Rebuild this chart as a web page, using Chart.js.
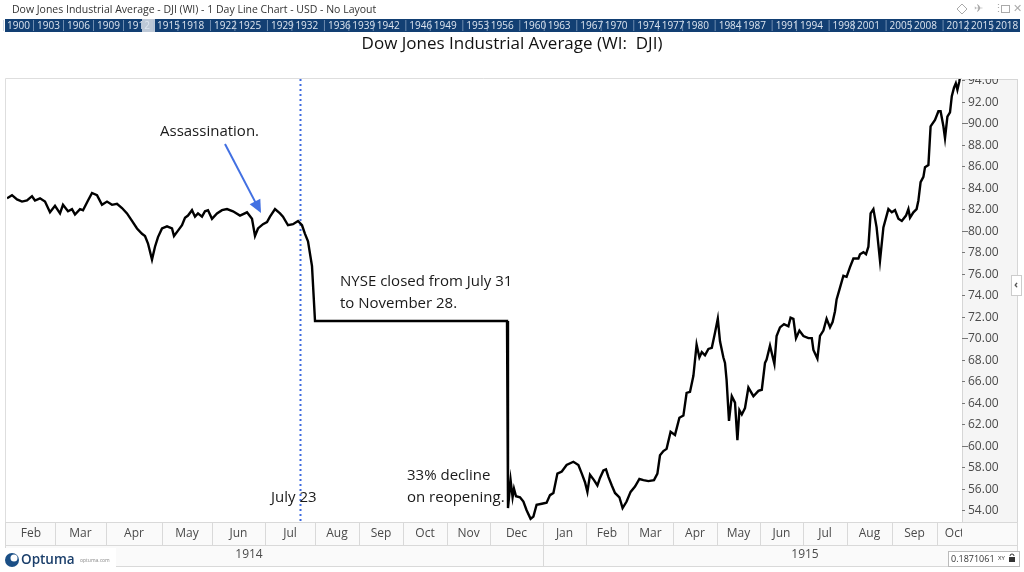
<!DOCTYPE html>
<html>
<head>
<meta charset="utf-8">
<script src="https://cdn.jsdelivr.net/npm/chart.js@4/dist/chart.umd.min.js"></script>
<style>
  html, body { margin: 0; padding: 0; background: #fff; }
  #wrap { width: 1024px; height: 572px; }
</style>
</head>
<body>
<div id="wrap"><canvas id="chart" width="1024" height="572"></canvas></div>
<script>
// --- datos (eje x = dias de bolsa desde el 1 feb 1914) ---
const days = [
  0, 2.5, 5, 7.5, 10, 12.5, 14, 16.5, 19, 21.5, 24, 26.5, 28, 30.5, 32.5, 34, 36.5, 38, 40.5, 42.5,
  45, 47.5, 50, 52.5, 55, 57.5, 60, 62.5, 65, 67.5, 69, 70.5, 72.5, 74, 75.5, 77.5, 80, 82.5, 83.5, 85.5,
  87.5, 89, 90.5, 92.5, 94, 95.5, 97.5, 99, 100.5, 102.5, 105, 107.5, 110, 113, 116.5, 120, 122.5, 124, 125.5, 128,
  130, 131.5, 134, 136.5, 138, 140.5, 143, 145.5, 147.5, 149, 150.5, 152.5, 153, 154, 250,
  250.5, 251.8, 252.8, 253.5, 254.5, 256.5, 258.2, 259.8, 261.8, 263.2, 264.8, 267.4, 269.8, 271.5, 273.2, 275.2,
  277.4, 279.8, 283.2, 285.7, 287.4, 289, 290.2, 291.5, 293.5, 295.2, 296.5, 298.2, 299.5, 300.7, 302.4, 304,
  306.2, 307.8, 309.8, 311.8, 314, 316.2, 318.2, 320.7, 323.5, 325.2, 326.5, 328.2, 329.8, 331.8, 334, 336.2,
  338.2, 339.8, 341.5, 343.2, 344.8, 346.2, 347.4, 349, 350.7, 352.4, 354, 355.4, 356.5, 358.2, 359, 359.8,
  361, 362.4, 364, 365.2, 366.2, 367.4, 369, 370.7, 373.2, 375.7, 377.4, 379, 379.8, 381.5, 383.7, 384.8,
  386.5, 388.5, 390.7, 391.8, 393.2, 394.5, 396.2, 398.2, 400.7, 402.4, 403.2, 405.2, 406.5, 408.2, 409.8, 411.5,
  412.8, 414, 414.8, 416.5, 418.2, 419.8, 421.5, 423.2, 425.7, 426.5, 428.2, 429.5, 430.7, 431.8, 433.2, 434.8,
  436.5, 438.2, 440.7, 442.4, 444, 445.7, 447.4, 449.5, 450.7, 451.5, 453.2, 454.8, 455.7, 456.8, 458.2, 459,
  460.7, 461.8, 464, 465.7, 466.8, 468.2, 469, 470.2, 471.5, 472.4, 473.5, 474.4, 475.2, 476.2, 476.5
];
const closes = [
  83.0, 83.3, 82.9, 82.7, 82.8, 83.2, 82.8, 83.0, 82.7, 81.7, 82.3, 81.6, 82.4, 81.8, 82.0, 81.5, 82.0, 81.9, 82.8, 83.5,
  83.3, 82.4, 82.7, 82.4, 82.5, 82.1, 81.6, 80.9, 80.2, 79.7, 79.5, 78.8, 77.3, 78.5, 79.4, 80.2, 80.4, 80.2, 79.5, 80.0,
  80.5, 81.2, 81.4, 81.9, 81.3, 81.6, 81.3, 81.8, 81.9, 81.1, 81.6, 81.9, 82.0, 81.8, 81.4, 81.7, 81.1, 79.5, 80.2, 80.6,
  80.8, 81.3, 82.0, 81.6, 81.3, 80.5, 80.6, 80.9, 80.5, 79.7, 79.0, 76.7, 75.0, 71.6, 71.6,
  54.2, 56.8, 55.2, 56.0, 55.3, 55.2, 54.8, 54.0, 53.2, 53.4, 54.5, 54.6, 54.7, 55.4, 55.6, 57.4,
  57.6, 58.2, 58.5, 58.2, 57.4, 56.6, 55.7, 57.3, 56.8, 56.3, 57.0, 57.7, 57.8, 57.1, 56.3, 55.6,
  55.2, 54.2, 54.8, 55.7, 56.2, 56.9, 56.8, 56.7, 56.8, 57.4, 59.1, 59.5, 59.7, 61.3, 61.0, 62.6,
  62.8, 64.9, 65.0, 66.5, 69.4, 68.2, 68.7, 68.4, 69.0, 69.1, 70.5, 71.8, 69.7, 68.2, 67.7, 66.1,
  62.3, 64.6, 64.0, 60.5, 63.3, 62.9, 63.5, 65.4, 64.6, 65.1, 65.2, 67.7, 68.0, 69.3, 67.6, 70.2,
  71.0, 71.3, 71.1, 71.9, 71.8, 70.0, 70.7, 70.2, 70.0, 70.0, 68.9, 68.1, 70.2, 70.7, 71.8, 71.0,
  71.5, 72.5, 73.6, 74.7, 75.8, 75.7, 76.6, 77.4, 77.4, 77.8, 78.0, 77.8, 78.5, 81.6, 82.0, 80.3,
  77.2, 80.3, 82.0, 81.7, 81.9, 81.1, 80.9, 81.4, 82.0, 81.2, 81.7, 82.0, 82.8, 84.5, 85.0, 85.9,
  86.1, 89.7, 90.3, 91.1, 91.1, 89.7, 88.6, 90.6, 91.0, 92.5, 93.3, 93.7, 93.1, 93.9, 94.3
];

// meses (inicio de cada mes en dias de bolsa)
const monthNames = ['Feb', 'Mar', 'Apr', 'May', 'Jun', 'Jul', 'Aug', 'Sep', 'Oct', 'Nov', 'Dec',
                    'Jan', 'Feb', 'Mar', 'Apr', 'May', 'Jun', 'Jul', 'Aug', 'Sep', 'Oct'];
const monthStarts = [0, 24, 49.5, 77.5, 102.5, 129, 154, 176, 198, 220, 241.5,
                     268, 289.5, 310.5, 333, 355, 376.5, 398, 420, 442.5, 465];
const yearNames = ['1914', '1915'];
const yearStarts = [-26, 268, 530];
const yTicks = [54, 56, 58, 60, 62, 64, 66, 68, 70, 72, 74, 76, 78, 80, 82, 84, 86, 88, 90, 92, 94];
const july23 = 146.5;
const navYears = [1900, 1903, 1906, 1909, 1912, 1915, 1918, 1922, 1925, 1929, 1932, 1936, 1939, 1942, 1946, 1949,
                  1953, 1956, 1960, 1963, 1967, 1970, 1974, 1977, 1980, 1984, 1987, 1991, 1994, 1998, 2001,
                  2005, 2008, 2012, 2015, 2018];

const FONT = '"Open Sans", "Noto Sans", sans-serif';

// posicion aproximada de los anos en la barra de navegacion
function navX(y) {
    return y <= 1915 ? 7 + (y - 1900) * 10 : 157 + (y - 1915) * 8.14;
}

const decorPlugin = {
    id: 'decor',
    beforeDraw(chart) {
        const ctx = chart.ctx;
        const a = chart.chartArea;
        ctx.save();
        ctx.fillStyle = '#fff';
        ctx.fillRect(0, 0, chart.width, chart.height);

        // cabecera
        ctx.fillStyle = '#333';
        ctx.font = '10.5px ' + FONT;
        ctx.textBaseline = 'middle';
        ctx.fillText('Dow Jones Industrial Average - DJI (WI) - 1 Day Line Chart - USD - No Layout', 12, 10);

        // iconos arriba a la derecha
        ctx.strokeStyle = '#aaa';
        ctx.fillStyle = '#aaa';
        ctx.lineWidth = 1;
        ctx.beginPath();
        ctx.moveTo(962, 4); ctx.lineTo(967, 9); ctx.lineTo(962, 14); ctx.lineTo(957, 9); ctx.closePath();
        ctx.stroke();
        ctx.font = '11px ' + FONT;
        ctx.fillText('\u2708', 974, 9);
        ctx.fillText('\u22EE', 993, 9);
        ctx.strokeRect(1001.5, 5.5, 8, 7);
        ctx.fillText('\u2715', 1013, 9);

        // barra de navegacion
        ctx.fillStyle = '#123f73';
        ctx.fillRect(5, 19, 1015, 13);
        ctx.fillStyle = 'rgba(220,225,232,0.85)';
        ctx.fillRect(142, 19, 13, 13);
        ctx.font = '10px ' + FONT;
        navYears.forEach(y => {
            const x = navX(y);
            ctx.strokeStyle = 'rgba(170,190,215,0.6)';
            ctx.beginPath();
            ctx.moveTo(x - 3.5, 20); ctx.lineTo(x - 3.5, 31);
            ctx.stroke();
            ctx.fillStyle = '#dde5ef';
            ctx.fillText(String(y), x, 26);
        });

        // titulo
        ctx.fillStyle = '#111';
        ctx.font = '17px ' + FONT;
        ctx.textAlign = 'center';
        ctx.fillText('Dow Jones Industrial Average (WI:  DJI)', 512, 44);

        // panel del eje y
        ctx.fillStyle = '#f5f5f5';
        ctx.fillRect(a.right, a.top, 1017 - a.right, a.bottom - a.top);
        ctx.strokeStyle = '#d6d6d6';
        ctx.strokeRect(a.right + 0.5, a.top + 0.5, 1017 - a.right, a.bottom - a.top);

        // marco del grafico
        ctx.strokeStyle = '#dedede';
        ctx.beginPath();
        ctx.moveTo(5.5, a.bottom); ctx.lineTo(5.5, a.top - 0.5); ctx.lineTo(a.right, a.top - 0.5);
        ctx.stroke();
        ctx.restore();
    },
    beforeDatasetsDraw(chart) {
        const ctx = chart.ctx;
        const a = chart.chartArea;
        const x = Math.round(chart.scales.x.getPixelForValue(july23)) + 0.5;
        ctx.save();
        ctx.strokeStyle = '#3d6ae0';
        ctx.lineWidth = 2;
        ctx.setLineDash([2, 3]);
        ctx.beginPath();
        ctx.moveTo(x, a.top);
        ctx.lineTo(x, a.bottom);
        ctx.stroke();
        ctx.restore();
    },
    afterDraw(chart) {
        const ctx = chart.ctx;
        const a = chart.chartArea;
        const xs = chart.scales.x;
        const ys = chart.scales.y;
        ctx.save();

        // ticks y etiquetas del eje y
        ctx.save();
        ctx.beginPath();
        ctx.rect(a.right, a.top, 60, a.bottom - a.top);
        ctx.clip();
        ctx.strokeStyle = '#777';
        ctx.lineWidth = 1;
        ctx.fillStyle = '#4a4a4a';
        ctx.font = '12px ' + FONT;
        ctx.textBaseline = 'middle';
        ctx.textAlign = 'left';
        yTicks.forEach(v => {
            const y = Math.round(ys.getPixelForValue(v)) + 0.5;
            const len = v % 10 === 0 ? 6 : 3;
            ctx.beginPath();
            ctx.moveTo(a.right, y); ctx.lineTo(a.right + len, y);
            ctx.stroke();
            ctx.fillText(v.toFixed(2), a.right + 6, y);
        });
        ctx.restore();

        // fila de meses
        const rowTop = a.bottom;
        const rowBot = rowTop + 23;
        const yrBot = rowBot + 21;
        ctx.fillStyle = '#fafafa';
        ctx.fillRect(5, rowTop, 1012, yrBot - rowTop);
        ctx.strokeStyle = '#d9d9d9';
        ctx.lineWidth = 1;
        ctx.beginPath();
        ctx.moveTo(5, rowTop + 0.5); ctx.lineTo(1017, rowTop + 0.5);
        ctx.moveTo(5, rowBot + 0.5); ctx.lineTo(1017, rowBot + 0.5);
        ctx.moveTo(5, yrBot + 0.5); ctx.lineTo(1017, yrBot + 0.5);
        ctx.moveTo(5.5, rowTop); ctx.lineTo(5.5, yrBot);
        ctx.moveTo(1017.5, rowTop); ctx.lineTo(1017.5, yrBot);
        ctx.stroke();

        ctx.save();
        ctx.beginPath();
        ctx.rect(5, rowTop, a.right - 5, rowBot - rowTop);
        ctx.clip();
        ctx.font = '12px ' + FONT;
        ctx.textAlign = 'center';
        ctx.textBaseline = 'middle';
        monthNames.forEach((m, i) => {
            const s = xs.getPixelForValue(monthStarts[i]);
            const e = i + 1 < monthStarts.length ? xs.getPixelForValue(monthStarts[i + 1]) : a.right + 10;
            if (i > 0) {
                ctx.strokeStyle = '#d9d9d9';
                ctx.beginPath();
                ctx.moveTo(Math.round(s) + 0.5, rowTop);
                ctx.lineTo(Math.round(s) + 0.5, rowBot);
                ctx.stroke();
            }
            ctx.fillStyle = '#4a4a4a';
            ctx.fillText(m, (s + e) / 2, rowTop + 12);
        });
        ctx.restore();

        // fila de anos
        yearNames.forEach((yr, i) => {
            const s = xs.getPixelForValue(yearStarts[i]);
            const e = xs.getPixelForValue(yearStarts[i + 1]);
            if (i > 0) {
                ctx.strokeStyle = '#d9d9d9';
                ctx.beginPath();
                ctx.moveTo(Math.round(s) + 0.5, rowBot);
                ctx.lineTo(Math.round(s) + 0.5, yrBot);
                ctx.stroke();
            }
            ctx.fillStyle = '#4a4a4a';
            ctx.font = '12px ' + FONT;
            ctx.textAlign = 'center';
            ctx.textBaseline = 'middle';
            ctx.fillText(yr, (s + e) / 2, rowBot + 10);
        });

        // cajita de coordenadas abajo a la derecha
        ctx.fillStyle = '#fff';
        ctx.fillRect(948, 551, 71, 15);
        ctx.strokeStyle = '#bbb';
        ctx.strokeRect(948.5, 551.5, 71, 15);
        ctx.fillStyle = '#333';
        ctx.font = '9px ' + FONT;
        ctx.textAlign = 'left';
        ctx.fillText('0.1871061', 951, 559);
        ctx.font = '6px ' + FONT;
        ctx.fillText('XY', 998, 558);
        ctx.fillRect(1009, 557, 6, 5);
        ctx.strokeStyle = '#333';
        ctx.beginPath();
        ctx.arc(1012, 556, 2, Math.PI, 0);
        ctx.stroke();

        // boton lateral
        ctx.fillStyle = '#fff';
        ctx.fillRect(1011, 275, 10, 20);
        ctx.strokeStyle = '#ccc';
        ctx.strokeRect(1011.5, 275.5, 10, 20);
        ctx.fillStyle = '#555';
        ctx.font = 'bold 11px ' + FONT;
        ctx.textAlign = 'center';
        ctx.fillText('\u2039', 1016, 285);

        // logo
        ctx.fillStyle = '#fff';
        ctx.fillRect(3, 548, 113, 22);
        ctx.fillStyle = '#1b4f86';
        ctx.beginPath();
        ctx.arc(12, 560, 7, 0, Math.PI * 2);
        ctx.fill();
        ctx.fillStyle = '#fff';
        ctx.beginPath();
        ctx.arc(14, 558, 3.5, 0, Math.PI * 2);
        ctx.fill();
        ctx.fillStyle = '#1b3f6b';
        ctx.font = '600 13.5px ' + FONT;
        ctx.textAlign = 'left';
        ctx.fillText('Optuma', 21, 560);
        ctx.fillStyle = '#888';
        ctx.font = '5px ' + FONT;
        ctx.fillText('optuma.com', 80, 561);

        // anotaciones
        ctx.fillStyle = '#1a1a1a';
        ctx.font = '15px ' + FONT;
        ctx.textAlign = 'left';
        ctx.textBaseline = 'middle';
        ctx.fillText('Assassination.', 160, 132);
        ctx.fillText('NYSE closed from July 31', 340, 282);
        ctx.fillText('to November 28.', 340, 304);
        ctx.fillText('33% decline', 407, 476);
        ctx.fillText('on reopening.', 407, 498);
        ctx.fillText('July 23', 271, 498);

        // flecha
        const x0 = 225, y0 = 144, x1 = 261, y1 = 213;
        const ang = Math.atan2(y1 - y0, x1 - x0);
        ctx.strokeStyle = '#4270e2';
        ctx.fillStyle = '#4270e2';
        ctx.lineWidth = 2;
        ctx.beginPath();
        ctx.moveTo(x0, y0);
        ctx.lineTo(x1 - 10 * Math.cos(ang), y1 - 10 * Math.sin(ang));
        ctx.stroke();
        ctx.beginPath();
        ctx.moveTo(x1, y1);
        ctx.lineTo(x1 - 13 * Math.cos(ang) + 6 * Math.sin(ang), y1 - 13 * Math.sin(ang) - 6 * Math.cos(ang));
        ctx.lineTo(x1 - 13 * Math.cos(ang) - 6 * Math.sin(ang), y1 - 13 * Math.sin(ang) + 6 * Math.cos(ang));
        ctx.closePath();
        ctx.fill();

        ctx.restore();
    }
};

const points = days.map((d, i) => ({ x: d, y: closes[i] }));

new Chart(document.getElementById('chart'), {
    type: 'line',
    data: {
        datasets: [{
            label: 'DJI',
            data: points,
            borderColor: '#000',
            borderWidth: 2.4,
            pointRadius: 0,
            tension: 0,
            fill: false
        }]
    },
    options: {
        responsive: false,
        animation: false,
        devicePixelRatio: 1,
        layout: { padding: { left: 7, top: 79, right: 0, bottom: 0 } },
        plugins: { legend: { display: false }, tooltip: { enabled: false }, title: { display: false } },
        scales: {
            x: {
                type: 'linear',
                min: 0,
                max: 477.5,
                grid: { display: false },
                border: { display: false },
                ticks: { display: false },
                afterFit: s => { s.height = 50; }
            },
            y: {
                type: 'linear',
                position: 'right',
                min: 52.9,
                max: 94.1,
                grid: { display: false },
                border: { display: false },
                ticks: { display: false },
                afterFit: s => { s.width = 62; }
            }
        }
    },
    plugins: [decorPlugin]
});
</script>
</body>
</html>
